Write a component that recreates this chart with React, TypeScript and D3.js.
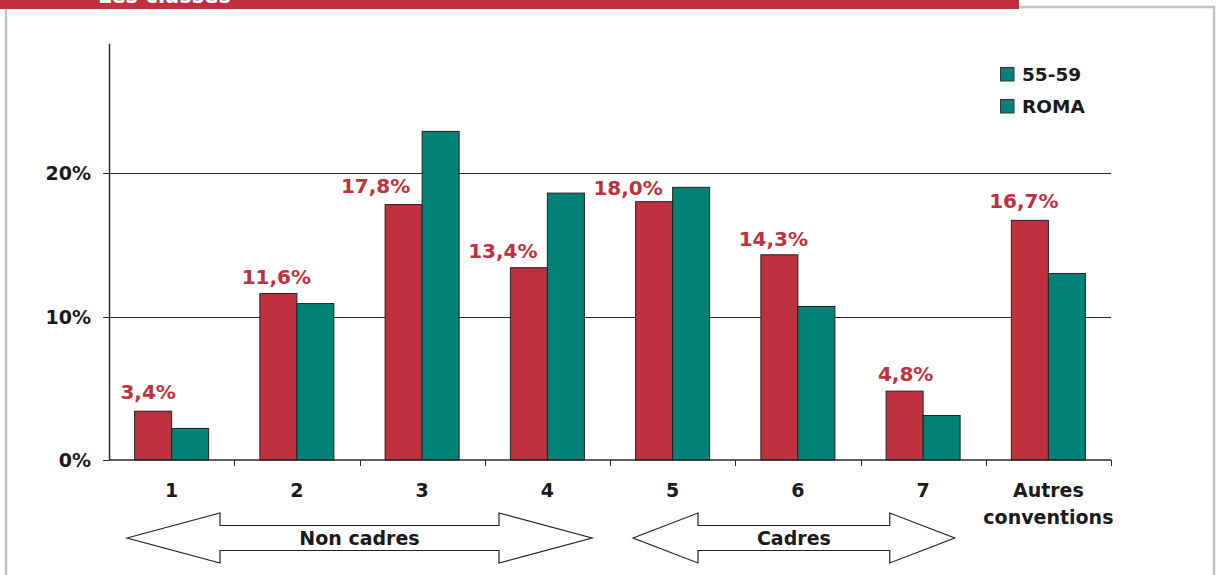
import React from "react";
import * as d3 from "d3";

// Distribution by class: share of each category for the two populations
const categories = ["1", "2", "3", "4", "5", "6", "7", "Autres conventions"];
const series = ["55-59", "ROMA"];
const values5559 = [3.4, 11.6, 17.8, 13.4, 18.0, 14.3, 4.8, 16.7];
const valuesRoma = [2.2, 10.9, 22.9, 18.6, 19.0, 10.7, 3.1, 13.0];
const yTicks = [0, 10, 20];
const groups = [
  { label: "Non cadres", from: 0, to: 3 },
  { label: "Cadres", from: 4, to: 6 },
];

// Hand-placed value labels (dx from the red bar centre, gap above the bar)
const labelNudge: [number, number][] = [
  [-5, 12], [-2, 10], [-28, 12], [-26, 10], [-26, 7], [-6, 9], [1, 10], [-6, 12],
];

const W = 1221;
const H = 575;
const RED = "#C0313F";
const TEAL = "#008276";
const INK = "#1a1a1a";
const FONT = "'DejaVu Sans', Verdana, sans-serif";

export default function App() {
  const x = d3.scaleBand<string>().domain(categories).range([109, 1111]).padding(0);
  const y = d3.scaleLinear().domain([0, 29]).range([460, 460 - 29 * 14.35]);
  const bw = x.bandwidth();
  const barW = 37;
  const cx = (c: string) => (x(c) as number) + bw / 2;
  const crisp = (v: number) => Math.round(v) + 0.5;

  const arrow = (x0: number, x1: number, head: number) => {
    const yc = 538, sh = 12.5, hh = 25;
    return [
      [x0, yc], [x0 + head, yc - hh], [x0 + head, yc - sh], [x1 - head, yc - sh],
      [x1 - head, yc - hh], [x1, yc], [x1 - head, yc + hh], [x1 - head, yc + sh],
      [x0 + head, yc + sh], [x0 + head, yc + hh],
    ].map((p) => p.join(",")).join(" ");
  };

  return (
    <svg width={W} height={H} style={{ position: "absolute", left: 0, top: 0, background: "#fff" }} fontFamily={FONT}>
      {/* page frame and header band */}
      <polyline points="6,575 6,7 1214,7 1214,575" fill="none" stroke="#c4c4c4" strokeWidth={2.5} />
      <rect x={0} y={0} width={1019} height={9} fill={RED} />
      <text x={98} y={3} fill="#fff" fontWeight="bold" fontSize={21}>Les classes</text>

      {/* gridlines */}
      {yTicks.filter((t) => t > 0).map((t) => (
        <line key={t} x1={109} x2={1111} y1={crisp(y(t))} y2={crisp(y(t))} stroke="#2a2a2a" strokeWidth={1} />
      ))}

      {/* y axis */}
      <line x1={109.5} x2={109.5} y1={y(0)} y2={y(29)} stroke="#2a2a2a" strokeWidth={1.5} />
      {yTicks.map((t) => (
        <g key={t}>
          <line x1={103} x2={109} y1={crisp(y(t))} y2={crisp(y(t))} stroke="#2a2a2a" strokeWidth={1} />
          <text x={91} y={y(t) + 7} textAnchor="end" fontWeight="bold" fontSize={19} fill={INK}>{t}%</text>
        </g>
      ))}

      {/* bars */}
      {categories.map((c, i) => (
        <g key={c}>
          <rect x={cx(c) - barW} y={y(values5559[i])} width={barW} height={y(0) - y(values5559[i])}
            fill={RED} stroke="#222" strokeWidth={1} />
          <rect x={cx(c)} y={y(valuesRoma[i])} width={barW} height={y(0) - y(valuesRoma[i])}
            fill={TEAL} stroke="#222" strokeWidth={1} />
          <text x={cx(c) - barW / 2 + labelNudge[i][0]} y={y(values5559[i]) - labelNudge[i][1]}
            textAnchor="middle" fontWeight="bold" fontSize={20} fill={RED}>
            {values5559[i].toFixed(1).replace(".", ",")}%
          </text>
        </g>
      ))}

      {/* x axis */}
      <line x1={109} x2={1111} y1={y(0)} y2={y(0)} stroke="#2a2a2a" strokeWidth={1.5} />
      {categories.map((c) => (
        <line key={c} x1={crisp((x(c) as number) + bw)} x2={crisp((x(c) as number) + bw)} y1={y(0)} y2={y(0) + 6}
          stroke="#2a2a2a" strokeWidth={1} />
      ))}
      {categories.map((c) => {
        const words = c.split(" ");
        return (
          <text key={c} x={cx(c)} y={497} textAnchor="middle" fontWeight="bold" fontSize={19} fill={INK}>
            {words.map((w, k) => (
              <tspan key={k} x={cx(c)} dy={k === 0 ? 0 : 27}>{w}</tspan>
            ))}
          </text>
        );
      })}

      {/* group arrows */}
      {groups.map((g, k) => {
        const x0 = (x(categories[g.from]) as number) + (k === 0 ? 18 : 23);
        const x1 = (x(categories[g.to]) as number) + bw - (k === 0 ? 18 : 31);
        const head = k === 0 ? 93 : 65;
        return (
          <g key={g.label}>
            <polygon points={arrow(x0, x1, head)} fill="#fff" stroke="#222" strokeWidth={1.2} />
            <text x={(x0 + x1) / 2} y={545} textAnchor="middle" fontWeight="bold" fontSize={19} fill={INK}>{g.label}</text>
          </g>
        );
      })}

      {/* legend */}
      {series.map((s, k) => (
        <g key={s} transform={`translate(1000.5, ${67.5 + k * 32})`}>
          <rect width={13.5} height={13.5} fill={TEAL} stroke="#333" strokeWidth={1} />
          <text x={21.5} y={13} fontWeight="bold" fontSize={18.5} fill={INK}>{s}</text>
        </g>
      ))}
    </svg>
  );
}
